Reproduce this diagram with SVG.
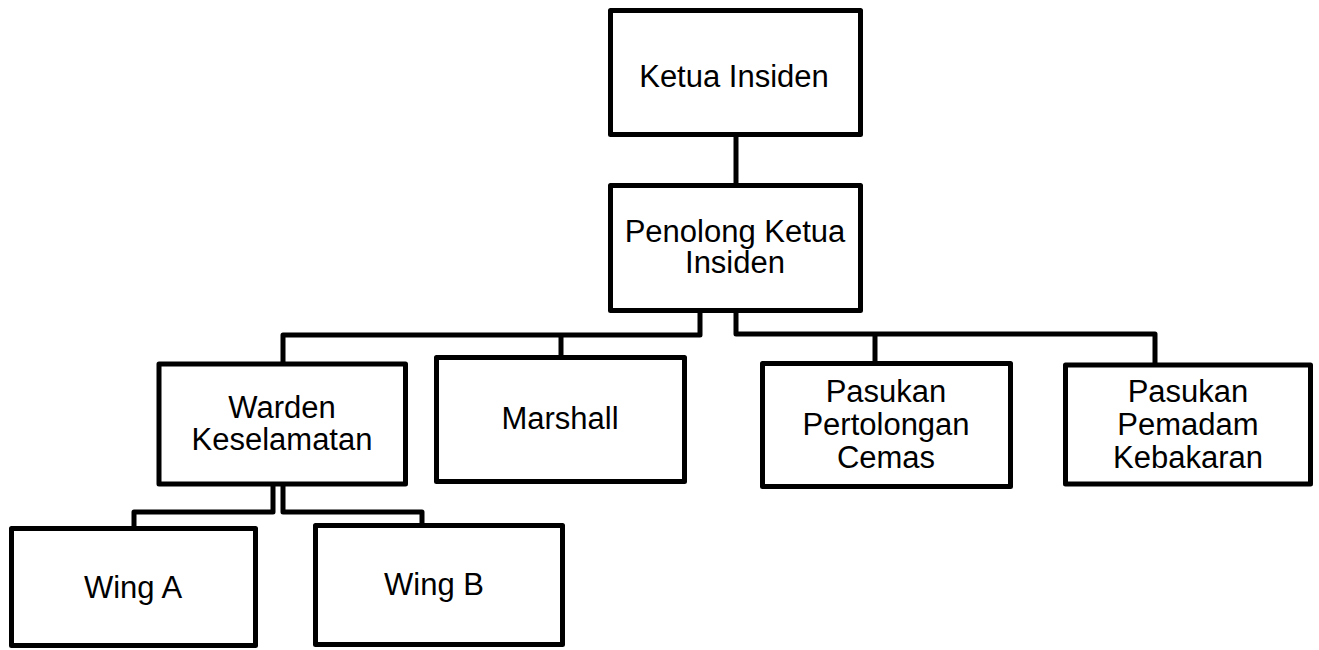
<svg xmlns="http://www.w3.org/2000/svg" width="1319" height="650" viewBox="0 0 1319 650">
<style>
.box{fill:#fff;stroke:#000;stroke-width:5;stroke-linejoin:round}
.c{fill:none;stroke:#000;stroke-width:5;stroke-linejoin:round}
text{font-family:"Liberation Sans",Arial,sans-serif;font-size:31px;fill:#000;text-anchor:middle}
</style>
<rect width="1319" height="650" fill="#fff"/>
<g id="connectors">
<path class="c" d="M736,135 V185"/>
<path class="c" d="M700,310 V335 H283 V362"/>
<path class="c" d="M561,335 V356"/>
<path class="c" d="M736,310 V334 H1155 V363"/>
<path class="c" d="M875,334 V362"/>
<path class="c" d="M273,486 V512 H134 V527"/>
<path class="c" d="M283,486 V512 H422 V524"/>
</g>
<g id="ketua">
<rect class="box" x="610.5" y="10.5" width="250" height="124"/>
<text x="734" y="86.5">Ketua Insiden</text>
</g>
<g id="penolong">
<rect class="box" x="610.5" y="185.5" width="250" height="125"/>
<text x="735" y="241.7">Penolong Ketua</text>
<text x="735" y="273.3">Insiden</text>
</g>
<g id="warden">
<rect class="box" x="159" y="364" width="246.5" height="120"/>
<text x="282" y="418">Warden</text>
<text x="282" y="450">Keselamatan</text>
</g>
<g id="marshall">
<rect class="box" x="436.5" y="357.5" width="248" height="124"/>
<text x="560" y="429">Marshall</text>
</g>
<g id="pertolongan">
<rect class="box" x="762.5" y="363.5" width="248" height="123"/>
<text x="886" y="401.7">Pasukan</text>
<text x="886" y="435">Pertolongan</text>
<text x="886" y="468.3">Cemas</text>
</g>
<g id="pemadam">
<rect class="box" x="1065.5" y="365" width="245" height="119"/>
<text x="1188" y="401.7">Pasukan</text>
<text x="1188" y="435">Pemadam</text>
<text x="1188" y="468.3">Kebakaran</text>
</g>
<g id="wingA">
<rect class="box" x="11.5" y="528.5" width="244" height="117"/>
<text x="133" y="598">Wing A</text>
</g>
<g id="wingB">
<rect class="box" x="315.5" y="525.5" width="247" height="119"/>
<text x="434" y="595">Wing B</text>
</g>
</svg>
